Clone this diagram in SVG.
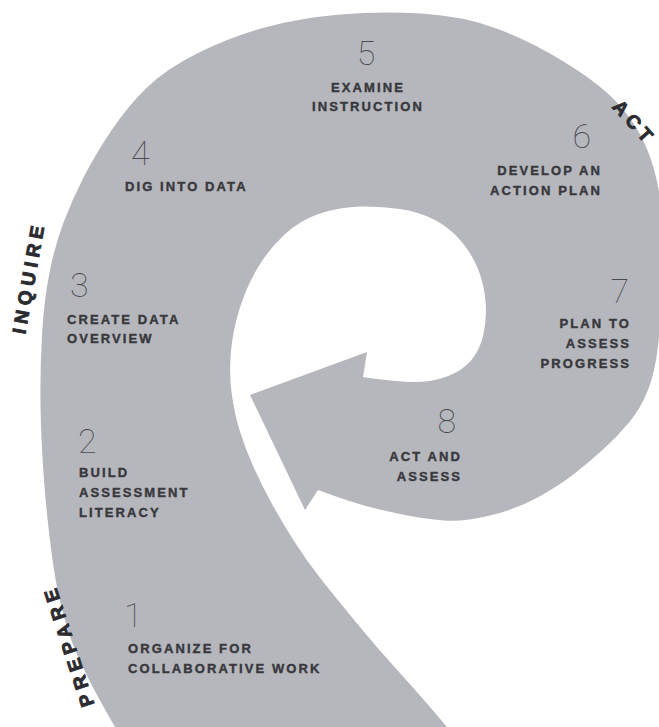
<svg xmlns="http://www.w3.org/2000/svg" width="659" height="727" viewBox="0 0 659 727">
<style>
.num{font-family:Roboto,"Open Sans","DejaVu Sans",sans-serif;font-weight:100;font-size:34px;fill:#4a4a4f}
.lbl{font-family:"Liberation Sans",Arial,sans-serif;font-weight:bold;font-size:13px;letter-spacing:2.1px;fill:#38383d;stroke:#38383d;stroke-width:0.4px}
.phase{font-family:"Liberation Sans",Arial,sans-serif;font-weight:bold;font-size:19px;fill:#2b2b30;stroke:#2b2b30;stroke-width:0.9px}
.spiral{fill:#b6b7bc;stroke:none}
</style>
<rect width="659" height="727" fill="#ffffff"/>
<g id="connectors">
<path class="spiral" d="M118,735 L115,727 Q80,667 69,633.5 Q58,600 52.5,560 Q47,520 44,480 Q41,440 40.5,405 Q40,370 42,335 Q44,300 49.5,272.5 Q55,245 63.5,222.5 Q72,200 83.5,177.5 Q95,155 111,131 Q127,107 147,87.5 Q167,68 200,52 Q233,36 266.5,27 Q300,18 340,14.5 Q380,11 421.5,13.5 Q463,16 496.5,28.5 Q530,41 563.5,61.5 Q597,82 614.5,100 Q632,118 642,138 Q652,158 657,181.5 Q662,205 663,232.5 Q664,260 662.5,290 Q661,320 658,346 Q655,372 648,390 Q641,408 629,422.5 Q617,437 602.5,450 Q588,463 574,474 Q560,485 538.5,497 Q517,509 490,515.5 Q463,522 444,520.5 Q425,519 402.5,514.5 Q380,510 362.5,505 Q345,500 318,490 L305,510 L250,395 L367,352 L363,377 Q397,382 414.5,382 Q432,382 447,376.5 Q462,371 471,360.5 Q480,350 483.5,334 Q487,318 485.5,301 Q484,284 478,269 Q472,254 461,241 Q450,228 435,220 Q420,212 400,209 Q380,206 360,206.5 Q340,207 320,213.5 Q300,220 284,235 Q268,250 257,269 Q246,288 239.5,309 Q233,330 231,351 Q229,372 231.5,392 Q234,412 239.5,430 Q245,448 253.5,467 Q262,486 272,504 Q282,522 294,541 Q306,560 321,579 Q336,598 357,623.5 Q378,649 399,672 Q420,695 447,727 L452,735 Z"/>
</g>
<g id="phase-prepare"><text class="phase" style="letter-spacing:5.4px" text-anchor="middle" transform="translate(74.6,643.3) rotate(-108)">PREPARE</text></g>
<g id="phase-inquire"><text class="phase" style="letter-spacing:5px" text-anchor="middle" transform="translate(35.2,278.6) rotate(-80)">INQUIRE</text></g>
<g id="phase-act"><text class="phase" style="letter-spacing:4.8px" text-anchor="middle" transform="translate(629.5,127) rotate(48)">ACT</text></g>
<g id="step1"><text class="num" x="124" y="627">1</text><text class="lbl" x="128" y="653">ORGANIZE FOR</text><text class="lbl" x="128" y="673">COLLABORATIVE WORK</text></g>
<g id="step2"><text class="num" x="78" y="453">2</text><text class="lbl" x="79" y="477">BUILD</text><text class="lbl" x="79" y="497">ASSESSMENT</text><text class="lbl" x="79" y="517">LITERACY</text></g>
<g id="step3"><text class="num" x="70" y="297">3</text><text class="lbl" x="67" y="324">CREATE DATA</text><text class="lbl" x="67" y="343">OVERVIEW</text></g>
<g id="step4"><text class="num" x="131" y="165">4</text><text class="lbl" x="125" y="191">DIG INTO DATA</text></g>
<g id="step5"><text class="num" text-anchor="middle" x="366" y="65">5</text><text class="lbl" text-anchor="middle" x="368" y="92">EXAMINE</text><text class="lbl" text-anchor="middle" x="368" y="111">INSTRUCTION</text></g>
<g id="step6"><text class="num" text-anchor="end" x="591" y="148">6</text><text class="lbl" text-anchor="end" x="602" y="175">DEVELOP AN</text><text class="lbl" text-anchor="end" x="602" y="195">ACTION PLAN</text></g>
<g id="step7"><text class="num" text-anchor="end" x="629" y="303">7</text><text class="lbl" text-anchor="end" x="631" y="328">PLAN TO</text><text class="lbl" text-anchor="end" x="631" y="348">ASSESS</text><text class="lbl" text-anchor="end" x="631" y="368">PROGRESS</text></g>
<g id="step8"><text class="num" text-anchor="end" x="456" y="433">8</text><text class="lbl" text-anchor="end" x="462" y="461">ACT AND</text><text class="lbl" text-anchor="end" x="462" y="481">ASSESS</text></g>
</svg>
